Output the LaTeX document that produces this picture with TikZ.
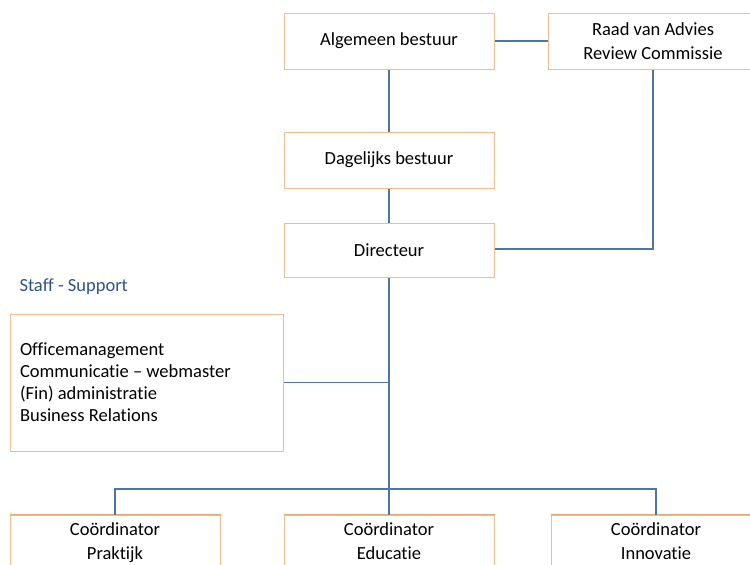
\documentclass[tikz,border=0pt]{standalone}
\usepackage{fontspec}
\setmainfont{Carlito}[Ligatures={NoCommon}]
\usetikzlibrary{calc}
\definecolor{boxline}{RGB}{236,190,150}
\definecolor{boxtop}{RGB}{228,165,110}
\definecolor{linkline}{RGB}{78,118,165}
\definecolor{stafftext}{RGB}{45,85,135}

\begin{document}
\begin{tikzpicture}[x=1pt,y=-1pt,
  box/.style={draw=boxline,line width=1pt,fill=white,minimum width=210pt,minimum height=56pt,
    inner sep=0pt,align=center,font=\fontsize{18.5}{24}\selectfont},
  link/.style={draw=linkline,line width=1.3pt}]
\useasboundingbox (0,0) rectangle (750,565);
\clip (0,0) rectangle (750,565);
\fill[white] (0,0) rectangle (750,565);
\node[box] (alg) at (389,41) {Algemeen bestuur};
\node[box] (raad) at (653,41) {Raad van Advies\\Review Commissie};
\node[box] (dag) at (389,160) {Dagelijks bestuur};
\node[box,minimum height=54pt] (dir) at (389,250) {Directeur};
\node[anchor=west,text=stafftext,font=\fontsize{18.5}{24}\selectfont] (stafflbl) at (16,287) {Staff - Support};
\node[box,minimum width=273pt,minimum height=137pt,text width=253pt,align=flush left,
  font=\fontsize{18.5}{22}\selectfont] (staff) at (146.5,382.5)
  {Officemanagement\\Communicatie -- webmaster\\(Fin) administratie\\Business Relations};
\node[box,minimum height=58pt,text depth=5pt] (prak) at (115,544) {Coördinator\\Praktijk};
\node[box,minimum height=58pt,text depth=5pt] (edu) at (389,544) {Coördinator\\Educatie};
\node[box,minimum height=58pt,text depth=5pt] (inno) at (656,544) {Coördinator\\Innovatie};
\foreach \n in {prak,edu,inno} {
  \draw[boxtop,line width=1.6pt] (\n.north west) -- (\n.north east);
}
\coordinate (bus) at (389,489);
\draw[link] (alg) -- (raad);
\draw[link] (alg) -- (dag);
\draw[link] (dag) -- (dir);
\draw[link] (raad.south) |- ($(dir.east)+(0,-1)$);
\draw[link] (dir.south) -- (bus);
\draw[link] (staff.east) -- (staff.east -| dir.south);
\draw[link] (prak.north) |- (bus) -| (inno.north);
\draw[link] (bus) -- (edu.north);
\end{tikzpicture}
\end{document}
